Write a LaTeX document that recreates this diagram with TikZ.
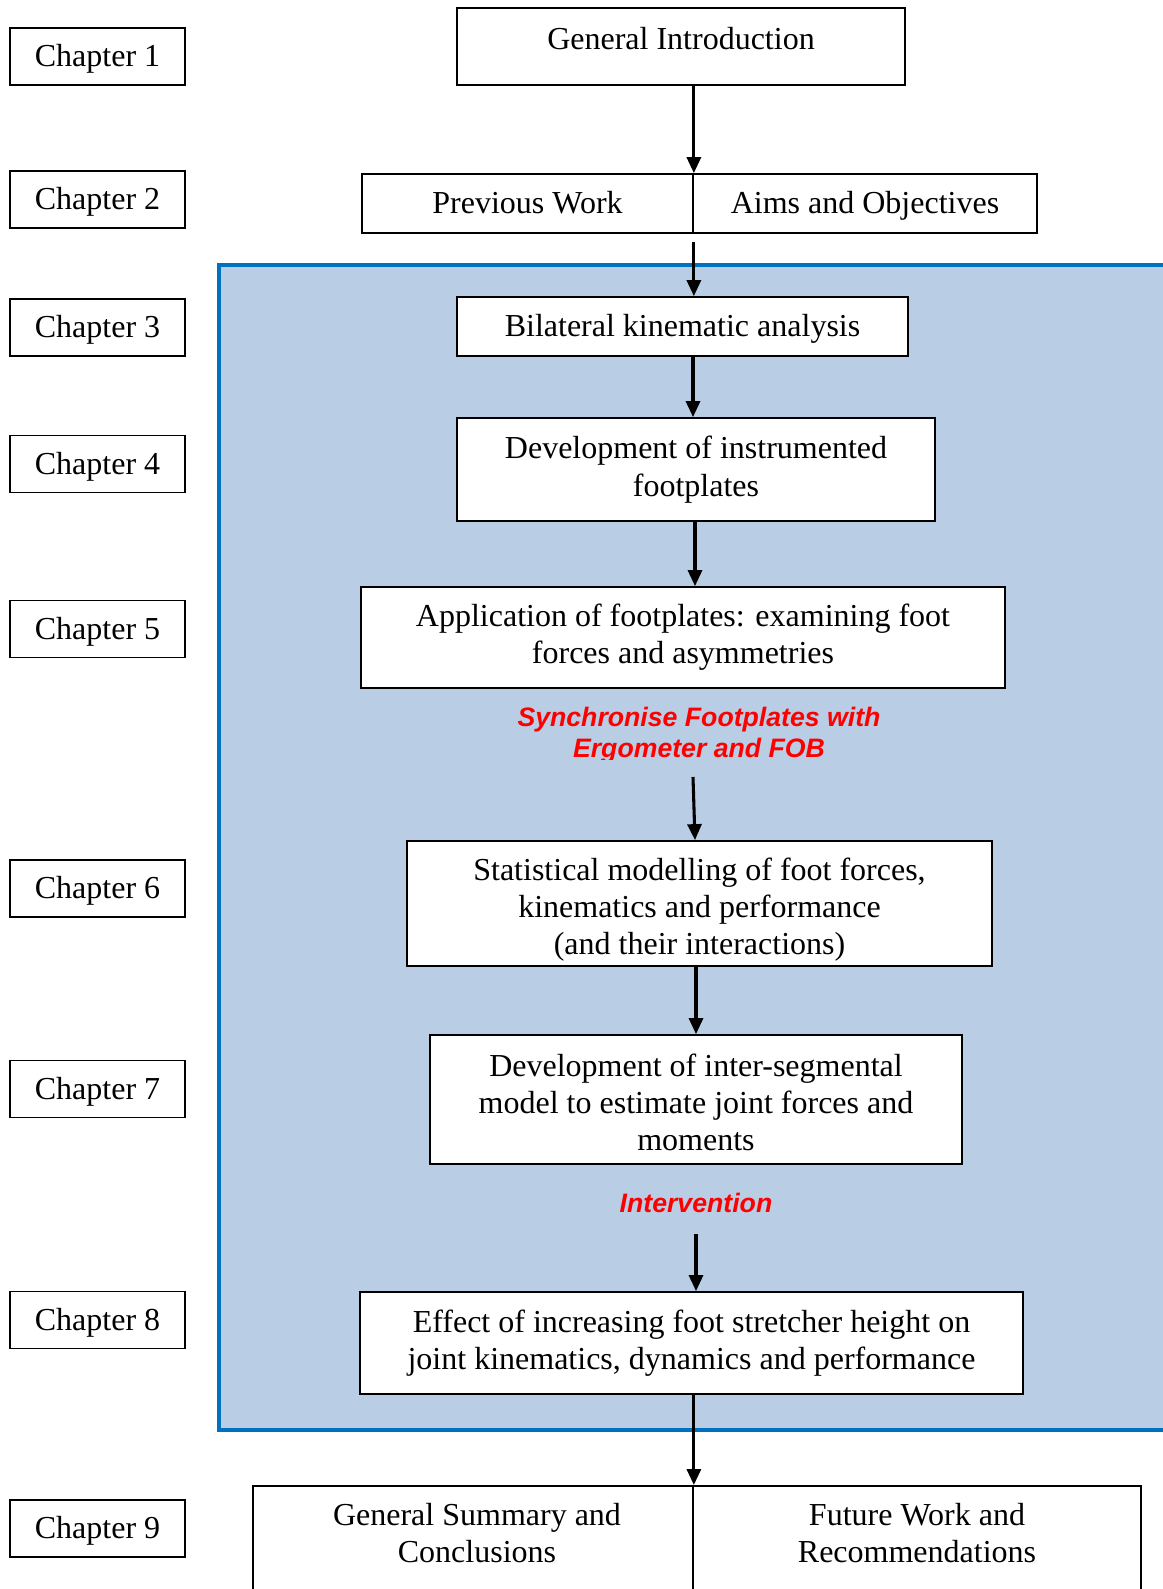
\documentclass[tikz,border=0pt]{standalone}
\usepackage{fontspec}
\setmainfont{Liberation Serif}
\setsansfont{Liberation Sans}
\usetikzlibrary{arrows.meta}
\definecolor{regionfill}{RGB}{185,205,229}
\definecolor{regionline}{RGB}{0,112,192}
\begin{document}
\begin{tikzpicture}[x=0.75pt,y=-0.75pt,
  box/.style={draw=black, line width=1.3pt, fill=white, inner sep=0pt, align=center, font=\fontsize{24}{28}\selectfont},
  oneline/.style={text height=21.5pt, text depth=6pt},
  sz/.style 2 args={minimum width=#1*0.75pt, minimum height=#2*0.75pt},
  txt/.style={align=center, font=\fontsize{24}{28}\selectfont, inner sep=0pt},
  redlabel/.style={text=red, align=center, font=\sffamily\bfseries\itshape\fontsize{20}{23.5}\selectfont, inner sep=0pt},
  arr/.style={line width=2.3pt, -{Triangle[length=12pt,width=10.5pt]}}
]
\clip (0,0) rectangle (1163,1589);
\fill[white] (0,0) rectangle (1163,1589);
% blue region
\draw[line width=2.8pt, draw=regionline, fill=regionfill] (219,265) rectangle (1200,1430);

% chapter boxes
\node[box, oneline, sz={175}{57}] (ch1) at (97.5,56.5) {Chapter 1};
\node[box, oneline, sz={175}{57}] (ch2) at (97.5,199.5) {Chapter 2};
\node[box, oneline, sz={175}{57}] (ch3) at (97.5,327.5) {Chapter 3};
\node[box, oneline, sz={175}{57}] (ch4) at (97.5,464) {Chapter 4};
\node[box, oneline, sz={175}{57}] (ch5) at (97.5,629) {Chapter 5};
\node[box, oneline, sz={175}{57}] (ch6) at (97.5,888.5) {Chapter 6};
\node[box, oneline, sz={175}{57}] (ch7) at (97.5,1089) {Chapter 7};
\node[box, oneline, sz={175}{57}] (ch8) at (97.5,1320) {Chapter 8};
\node[box, oneline, sz={175}{57}] (ch9) at (97.5,1528.5) {Chapter 9};

% main flow
\node[box, sz={448}{77}] (gi) at (681,46.5) {};
\node[txt] (gitext) at (681,39) {General Introduction};

\node[box, oneline, sz={331}{59}] (pw) at (527.5,203.5) {Previous Work};
\node[box, oneline, sz={344}{59}] (ao) at (865,203.5) {Aims and Objectives};

\node[box, oneline, sz={451}{59}] (bil) at (682.5,326.5) {Bilateral kinematic analysis};
\node[box, sz={478}{103}] (devf) at (696,469.5) {Development of instrumented\\footplates};
\node[box, sz={644}{101}] (app) at (683,637.5) {Application of footplates: examining foot\\forces and asymmetries};

\begin{scope}
\clip (450,690) rectangle (950,759);
\node[redlabel] (sync) at (699,735) {Synchronise Footplates with\\Ergometer and FOB};
\end{scope}

\node[box, sz={585}{125}, text depth=0pt] (stat) at (699.5,903.5) {\rule{0pt}{21pt}Statistical modelling of foot forces,\\kinematics and performance\\(and their interactions)};
\node[box, sz={532}{129}] (inter) at (696,1099.5) {\rule{0pt}{21pt}Development of inter-segmental\\model to estimate joint forces and\\moments};
\node[redlabel] (interv) at (696,1203) {Intervention};
\node[box, sz={663}{102}] (eff) at (691.5,1343) {Effect of increasing foot stretcher height on\\joint kinematics, dynamics and performance};

\node[box, sz={440}{140}, anchor=north] (gs) at (473,1485) {};
\node[box, sz={448}{140}, anchor=north] (fw) at (917,1485) {};
\node[txt] (gstext) at (477,1533) {General Summary and\\Conclusions};
\node[txt] (fwtext) at (917,1533) {Future Work and\\Recommendations};

% axis coordinates
\coordinate (xa) at (693,0);
\coordinate (xb) at (695,0);
\coordinate (xc) at (696,0);
\coordinate (syncstart) at (693,777);

% arrows
\draw[arr] (gi.south -| pw.north east) -- (pw.north east);
\draw[arr] ([yshift=-8*0.75pt]pw.south east) -- (pw.south east |- bil.north);
\draw[arr] (bil.south -| xa) -- (devf.north -| xa);
\draw[arr] (devf.south -| xb) -- (app.north -| xb);
\draw[arr] (syncstart) -- (stat.north -| xb);
\draw[arr] (stat.south -| xc) -- (inter.north -| xc);
\draw[arr] ([yshift=-21*0.75pt]interv.south -| xc) -- (eff.north -| xc);
\draw[arr] (eff.south -| gs.north east) -- (gs.north east);
\end{tikzpicture}
\end{document}
